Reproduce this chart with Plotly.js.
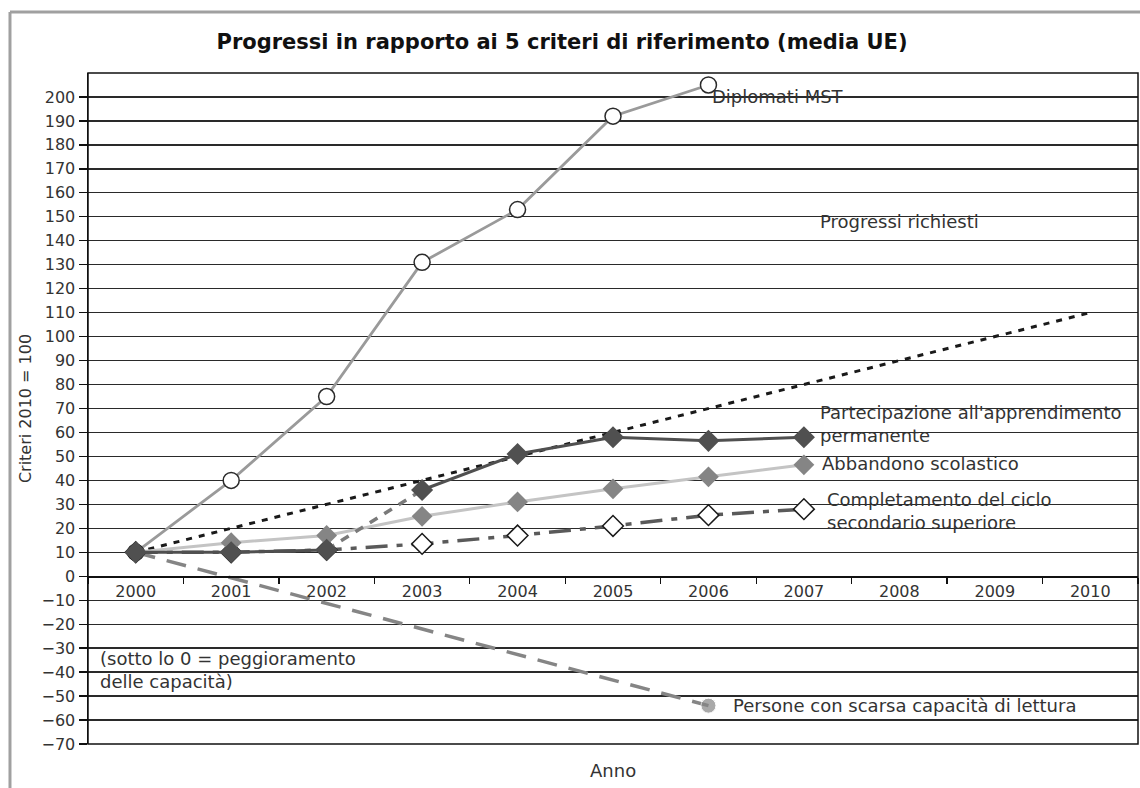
<!DOCTYPE html>
<html>
<head>
<meta charset="utf-8">
<script src="https://cdn.plot.ly/plotly-3.0.1.min.js"></script>
<style>
  html, body { margin: 0; padding: 0; background: #ffffff; }
  #chart { width: 1140px; height: 788px; }
</style>
</head>
<body>
<div id="chart"></div>
<script>
// ---- Data ----
const years = ['2000','2001','2002','2003','2004','2005','2006','2007','2008','2009','2010'];
const yTicks = [-70,-60,-50,-40,-30,-20,-10,0,10,20,30,40,50,60,70,80,90,100,110,120,130,140,150,160,170,180,190,200];

const diplomatiYears = ['2000','2001','2002','2003','2004','2005','2006'];
const diplomatiMST   = [10, 40, 75, 131, 153, 192, 205];

const progressiRichiesti = [10, 20, 30, 40, 50, 60, 70, 80, 90, 100, 110];

const seriesYears    = ['2000','2001','2002','2003','2004','2005','2006','2007'];
const partecipazione = [10, 10, 11, 36, 51, 58, 56.5, 58];
const abbandono      = [10, 14, 17, 25, 31, 36.5, 41.5, 46.5];
const completamento  = [10, 10, 11, 13.5, 17, 21, 25.5, 28];

const personeYears   = ['2000','2006'];
const personeLettura = [10, -54];

// ---- Styling ----
const txtFont = {family: 'DejaVu Sans, sans-serif', size: 18, color: '#333333'};

const traces = [
  { // Progressi richiesti
    x: years, y: progressiRichiesti, type: 'scatter', mode: 'lines',
    line: {color: '#1a1a1a', width: 3, dash: '6px,7px'}, hoverinfo: 'skip'
  },
  { // Diplomati MST
    x: diplomatiYears, y: diplomatiMST, type: 'scatter', mode: 'lines+markers',
    line: {color: '#9a9a9a', width: 2.8},
    marker: {symbol: 'circle', size: 16, color: '#ffffff', line: {color: '#2a2a2a', width: 1.5}}
  },
  { // Persone con scarsa capacità di lettura
    x: personeYears, y: personeLettura, type: 'scatter', mode: 'lines+markers',
    line: {color: '#858585', width: 3.5, dash: '20px,12px'},
    marker: {symbol: 'circle', size: [0, 15], color: '#858585'}
  },
  { // Completamento del ciclo secondario superiore
    x: seriesYears, y: completamento, type: 'scatter', mode: 'lines+markers',
    line: {color: '#5a5a5a', width: 3.5, dash: '22px,9px,6px,9px'},
    marker: {symbol: 'diamond', size: 16, color: '#ffffff', line: {color: '#1a1a1a', width: 1.5}}
  },
  { // Abbandono scolastico
    x: seriesYears, y: abbandono, type: 'scatter', mode: 'lines+markers',
    line: {color: '#c4c4c4', width: 3},
    marker: {symbol: 'diamond', size: 16, color: '#858585'}
  },
  { // Partecipazione - dashed segment 2002-2003
    x: seriesYears.slice(2, 4), y: partecipazione.slice(2, 4), type: 'scatter', mode: 'lines',
    line: {color: '#7a7a7a', width: 3.5, dash: '9px,8px'}
  },
  { // Partecipazione - 2000-2002 solid
    x: seriesYears.slice(0, 3), y: partecipazione.slice(0, 3), type: 'scatter', mode: 'lines',
    line: {color: '#505050', width: 3}
  },
  { // Partecipazione - 2003-2007 line
    x: seriesYears.slice(3), y: partecipazione.slice(3), type: 'scatter', mode: 'lines',
    line: {color: '#505050', width: 3}
  },
  { // Partecipazione markers
    x: seriesYears, y: partecipazione, type: 'scatter', mode: 'markers',
    marker: {symbol: 'diamond', size: 17, color: '#505050'}
  }
];

function ann(x, y, text) {
  return {x: x, y: y, xref: 'x', yref: 'y', text: text, showarrow: false,
          xanchor: 'left', yanchor: 'middle', align: 'left', font: txtFont};
}

const layout = {
  width: 1140, height: 788,
  margin: {l: 88, r: 2, t: 73, b: 44},
  paper_bgcolor: '#ffffff', plot_bgcolor: '#ffffff',
  showlegend: false,
  title: {
    text: 'Progressi in rapporto ai 5 criteri di riferimento (media UE)',
    font: {family: 'DejaVu Sans, sans-serif', size: 21, color: '#111111', weight: 'bold'},
    x: 0.493, xanchor: 'center', y: 0.947, yanchor: 'middle'
  },
  xaxis: {
    type: 'category', categoryorder: 'array', categoryarray: years,
    range: [-0.5, 10.5],
    anchor: 'free', position: 0.25,
    showgrid: false, zeroline: false,
    showline: true, linecolor: '#111111', linewidth: 1.5,
    ticks: 'outside', ticklen: 6, tickwidth: 1.3, tickcolor: '#111111', tickson: 'boundaries',
    tickfont: {family: 'DejaVu Sans, sans-serif', size: 16, color: '#333333'},
    fixedrange: true
  },
  yaxis: {
    range: [-70, 210],
    tickvals: yTicks,
    showgrid: true, gridcolor: '#2a2a2a', gridwidth: 1.3,
    zeroline: true, zerolinecolor: '#111111', zerolinewidth: 1.5,
    showline: true, linecolor: '#111111', linewidth: 1.5,
    ticks: 'outside', ticklen: 8, tickwidth: 1.3, tickcolor: '#111111',
    tickfont: {family: 'DejaVu Sans, sans-serif', size: 16, color: '#333333'},
    title: {text: 'Criteri 2010 = 100', font: {family: 'DejaVu Sans, sans-serif', size: 16, color: '#333333'}, standoff: 6},
    fixedrange: true
  },
  shapes: [
    {type: 'rect', xref: 'paper', yref: 'paper', x0: 0, x1: 1, y0: 0, y1: 1,
     line: {color: '#111111', width: 1.5}},
    {type: 'line', xref: 'paper', yref: 'paper', x0: -0.0743, x1: -0.0743, y0: 1.0909, y1: -0.08,
     line: {color: '#a0a0a0', width: 3}},
    {type: 'line', xref: 'paper', yref: 'paper', x0: -0.0743, x1: 1.01, y0: 1.0909, y1: 1.0909,
     line: {color: '#a0a0a0', width: 3}}
  ],
  annotations: [
    ann(6.02, 200, 'Diplomati MST'),
    ann(7.15, 148, 'Progressi richiesti'),
    ann(7.15, 63.5, "Partecipazione all'apprendimento<br>permanente"),
    ann(7.17, 47, 'Abbandono scolastico'),
    ann(7.22, 27.3, 'Completamento del ciclo<br>secondario superiore'),
    ann(6.24, -54, 'Persone con scarsa capacità di lettura'),
    ann(-0.4, -39, '(sotto lo 0 = peggioramento<br>delle capacità)'),
    {x: 0.5, y: -0.04, xref: 'paper', yref: 'paper', text: 'Anno', showarrow: false,
     xanchor: 'center', yanchor: 'middle', font: {family: 'DejaVu Sans, sans-serif', size: 18, color: '#333333'}}
  ]
};

Plotly.newPlot('chart', traces, layout, {displayModeBar: false, staticPlot: true});
</script>
</body>
</html>
